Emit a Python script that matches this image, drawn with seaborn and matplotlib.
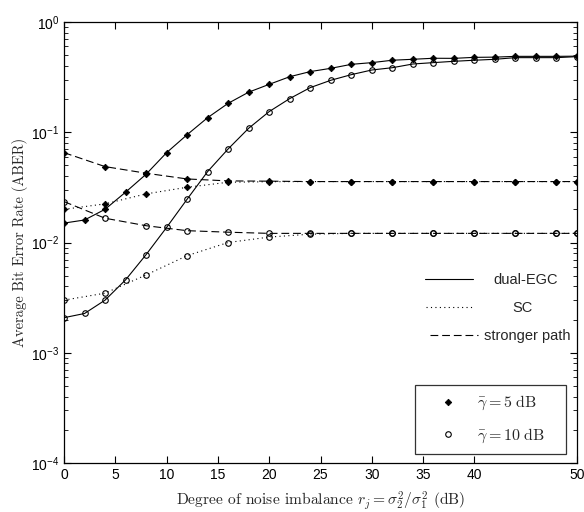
import numpy as np
import pandas as pd
import matplotlib
matplotlib.use("Agg")
import matplotlib.pyplot as plt
import seaborn as sns
from matplotlib.lines import Line2D
from matplotlib.ticker import LogLocator, NullFormatter, FixedLocator

# ---- data ----
x_egc = [0, 2, 4, 6, 8, 10, 12, 14, 16, 18, 20, 22, 24, 26, 28, 30, 32, 34, 36, 38, 40, 42, 44, 46, 48, 50]
egc_5 = [0.0150, 0.0160, 0.0200, 0.0286, 0.0416, 0.0653, 0.0950, 0.1356, 0.183, 0.231, 0.272, 0.319,
         0.355, 0.380, 0.413, 0.428, 0.450, 0.459, 0.469, 0.468, 0.478, 0.480, 0.488, 0.488, 0.488, 0.490]
egc_10 = [0.00208, 0.00227, 0.00300, 0.00458, 0.00776, 0.0137, 0.0247, 0.0440, 0.0706, 0.1087, 0.154, 0.202,
          0.254, 0.296, 0.333, 0.367, 0.385, 0.416, 0.428, 0.440, 0.450, 0.459, 0.475, 0.475, 0.475, 0.485]

x_sc = [0, 4, 8, 12, 16, 20, 24, 28, 32, 36, 40, 44, 48, 50]
sc_5 = [0.0200, 0.0224, 0.0276, 0.0317, 0.0352, 0.0356, 0.0357, 0.0357, 0.0357, 0.0357, 0.0357, 0.0357, 0.0357, 0.0357]
sc_10 = [0.00300, 0.00347, 0.00508, 0.00760, 0.0100, 0.0112, 0.0119, 0.0121, 0.0121, 0.0121, 0.0121, 0.0121, 0.0121, 0.0121]
sp_5 = [0.0653, 0.0488, 0.0425, 0.0377, 0.0362, 0.0360, 0.0357, 0.0357, 0.0357, 0.0357, 0.0357, 0.0357, 0.0357, 0.0357]
sp_10 = [0.0235, 0.0166, 0.0142, 0.0128, 0.0124, 0.0121, 0.0121, 0.0121, 0.0121, 0.0121, 0.0121, 0.0121, 0.0121, 0.0121]

x_ticks = [0, 5, 10, 15, 20, 25, 30, 35, 40, 50]
x_ticklabels = ["0", "5", "10", "15", "20", "25", "30", "35", "40", "50"]
line_labels = ["dual-EGC", "SC", "stronger path"]
snr_labels = [r"$\bar{\gamma} = 5\ \mathrm{dB}$", r"$\bar{\gamma} = 10\ \mathrm{dB}$"]

# ---- style ----
sns.set_style("ticks")
plt.rcParams["font.family"] = ["Liberation Sans", "DejaVu Sans"]
plt.rcParams["mathtext.fontset"] = "cm"

fig = plt.figure(figsize=(5.84, 5.12), dpi=100)
ax = fig.add_axes([64 / 584, 1 - 463 / 512, 513 / 584, 441 / 512])


def ax_x(px):
    return (px - 64) / 513


def ax_y(py):
    return (463 - py) / 441


dot_style = (0, (1, 3))
dash_style = (0, (7, 3.5))
diamond = dict(marker="D", markersize=3.3, markerfacecolor="black", markeredgecolor="black", markeredgewidth=0.6)
circle = dict(marker="o", markersize=4.0, markerfacecolor="none", markeredgecolor="black", markeredgewidth=0.8)

series = [
    (x_egc, egc_5, "-", diamond),
    (x_egc, egc_10, "-", circle),
    (x_sc, sc_5, dot_style, diamond),
    (x_sc, sc_10, dot_style, circle),
    (x_sc, sp_5, dash_style, diamond),
    (x_sc, sp_10, dash_style, circle),
]
for xs, ys, ls, mk in series:
    df = pd.DataFrame({"x": xs, "y": ys})
    sns.lineplot(data=df, x="x", y="y", ax=ax, color="black", linewidth=0.8, linestyle=ls, **mk)

ax.set_yscale("log")
ax.set_xlim(0, 50)
ax.set_ylim(1e-4, 1)
ax.xaxis.set_major_locator(FixedLocator(x_ticks))
ax.set_xticklabels(x_ticklabels)
ax.yaxis.set_major_locator(LogLocator(base=10, numticks=10))
ax.yaxis.set_minor_locator(LogLocator(base=10, subs=np.arange(2, 10), numticks=20))
ax.yaxis.set_minor_formatter(NullFormatter())
ax.tick_params(which="both", direction="in", top=True, right=True, labelsize=10, colors="black")
ax.tick_params(which="major", length=5, width=0.8)
ax.tick_params(which="minor", length=3, width=0.6)
for s in ax.spines.values():
    s.set_linewidth(0.9)
    s.set_color("black")

ax.set_xlabel(r"Degree of noise imbalance $r_j = \sigma_2^2/\sigma_1^2$ (dB)",
              fontdict=dict(family="cmr10", size=11.2), labelpad=5)
ax.set_ylabel("Average Bit Error Rate (ABER)", fontdict=dict(family="cmr10", size=10.5), labelpad=2)

# line-style key: one frameless entry per style, text roughly centred like the original
style_entries = [
    ("-", 425, 280, 1.37),
    (dot_style, 426, 308, 2.6),
    (dash_style, 430, 336, 0.42),
]
for (ls, px, py, tpad), lab in zip(style_entries, line_labels):
    lg = ax.legend([Line2D([], [], color="black", lw=0.8, ls=ls)], [lab], loc="center left",
                   bbox_to_anchor=(ax_x(px), ax_y(py)), frameon=False, handlelength=3.3,
                   handletextpad=tpad, borderpad=0, borderaxespad=0, fontsize=10.5)
    ax.add_artist(lg)

# legend for SNR markers (framed box spanning a fixed region)
h2 = [Line2D([], [], color="black", ls="none", **diamond),
      Line2D([], [], color="black", ls="none", **circle)]
leg2 = ax.legend(h2, snr_labels, loc="lower left",
                 bbox_to_anchor=(ax_x(415), ax_y(454), (566 - 415) / 513, 69 / 441),
                 mode="expand", frameon=True, fancybox=False,
                 handlelength=3.05, handletextpad=0.28, labelspacing=0.9, borderpad=0.56, fontsize=11.5,
                 edgecolor="black", borderaxespad=0)
leg2.get_frame().set_linewidth(0.9)

fig.savefig("out.png", dpi=100)
